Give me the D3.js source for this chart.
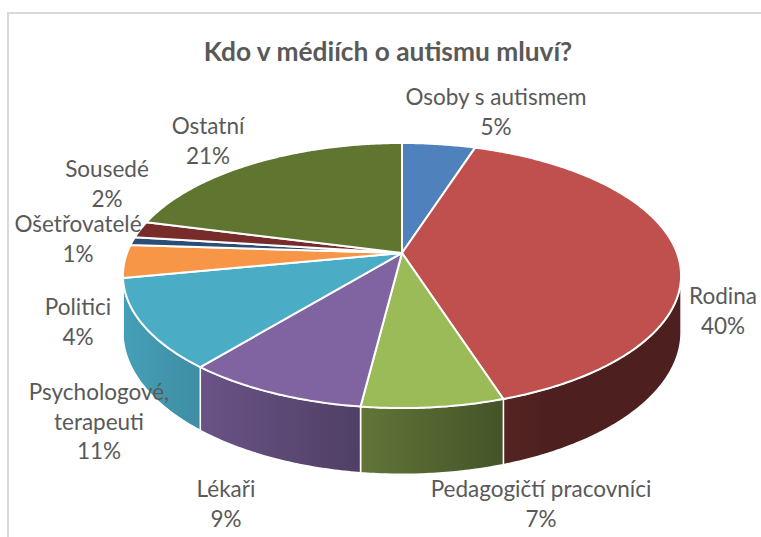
<!DOCTYPE html>
<html>
<head>
<meta charset="utf-8">
<script src="https://cdn.jsdelivr.net/npm/d3@7"></script>
<style>
  body { margin: 0; background: #fff; }
  text { font-family: Lato, "Open Sans", sans-serif; fill: #595959; }
</style>
</head>
<body>
<svg id="chart" width="761" height="537"></svg>
<script>
const categories = ["Osoby s autismem", "Rodina", "Pedagogičtí pracovníci", "Lékaři",
  "Psychologové, terapeuti", "Politici", "Ošetřovatelé", "Sousedé", "Ostatní"];
const values = [5, 40, 7, 9, 11, 4, 1, 2, 21];
const colors = ["#4F81BD", "#C0504D", "#9BBB59", "#8064A2", "#4BACC6",
  "#F79646", "#2C4D75", "#772C2A", "#5F7530"];
const title = "Kdo v médiích o autismu mluví?";

// label anchors (center x, first baseline)
const labelXY = [[496, 105], [723, 304], [541, 497], [226, 497], [99, 400],
  [78, 315], [78, 232], [107, 177], [208, 134]];

const svg = d3.select("#chart");

// chart border (cropped on right/bottom)
svg.append("rect")
  .attr("x", 8).attr("y", 13).attr("width", 800).attr("height", 600)
  .attr("fill", "none").attr("stroke", "#d9d9d9").attr("stroke-width", 2);

svg.append("text")
  .attr("x", 388).attr("y", 61)
  .attr("text-anchor", "middle")
  .attr("font-size", 26.3).attr("font-weight", "bold")
  .text(title);

// perspective pie geometry
const cx = 402, cy = 253, R = 275, A = 128.7, P = 0.17, H = 55;
function proj(t, z) {
  const u = Math.sin(t), v = Math.cos(t), k = 1 / (1 + P * v);
  return [cx + R * u * k, cy - A * v * k + z * H * k];
}
function arcPts(a0, a1, z) {
  const n = Math.max(2, Math.ceil(Math.abs(a1 - a0) / 0.01));
  return d3.range(n + 1).map(i => proj(a0 + (a1 - a0) * i / n, z));
}

const arcs = d3.pie().sort(null).value(d => d)(values);
const line = d3.line();

// side walls: visible between the two silhouette angles
const tR = Math.acos(-P), tL = 2 * Math.PI - tR;
const shadeAt = x => Math.max(0.4, 0.92 - (x - 125) * 0.00125);
const defs = svg.append("defs");

const sides = arcs.map((a, i) => {
  const s = Math.max(a.startAngle, tR), e = Math.min(a.endAngle, tL);
  return s < e ? { i, s, e } : null;
}).filter(d => d);

sides.forEach(d => {
  const top = arcPts(d.s, d.e, 0), bot = arcPts(d.e, d.s, 1);
  const xs = top.concat(bot).map(p => p[0]);
  const x0 = d3.min(xs), x1 = d3.max(xs);
  const base = d3.rgb(colors[d.i]);
  const g = defs.append("linearGradient")
    .attr("id", "side" + d.i)
    .attr("gradientUnits", "userSpaceOnUse")
    .attr("x1", x0).attr("x2", x1).attr("y1", 0).attr("y2", 0);
  d3.range(5).forEach(j => {
    const x = x0 + (x1 - x0) * j / 4, f = shadeAt(x);
    g.append("stop").attr("offset", j / 4)
      .attr("stop-color", d3.rgb(base.r * f, base.g * f, base.b * f));
  });
  d.path = line(top.concat(bot)) + "Z";
});

svg.append("g").selectAll("path")
  .data(sides)
  .join("path")
  .attr("d", d => d.path)
  .attr("fill", d => `url(#side${d.i})`)
  .attr("stroke", "#fff").attr("stroke-width", 1.5)
  .attr("stroke-linejoin", "round");

// top faces
svg.append("g").selectAll("path")
  .data(arcs)
  .join("path")
  .attr("d", a => line([[cx, cy]].concat(arcPts(a.startAngle, a.endAngle, 0))) + "Z")
  .attr("fill", (a, i) => colors[i])
  .attr("stroke", "#fff").attr("stroke-width", 2)
  .attr("stroke-linejoin", "round");

// data labels
const total = d3.sum(values);
const pct = d3.format(".0%");
const labels = svg.append("g").selectAll("text")
  .data(arcs)
  .join("text")
  .attr("text-anchor", "middle")
  .attr("font-size", 22.5);

labels.each(function(a, i) {
  const lines = categories[i].split(/(?<=,) /).concat(pct(a.data / total));
  d3.select(this).selectAll("tspan")
    .data(lines)
    .join("tspan")
    .attr("x", labelXY[i][0])
    .attr("y", (l, j) => labelXY[i][1] + j * 29.5)
    .text(l => l);
});
</script>
</body>
</html>
